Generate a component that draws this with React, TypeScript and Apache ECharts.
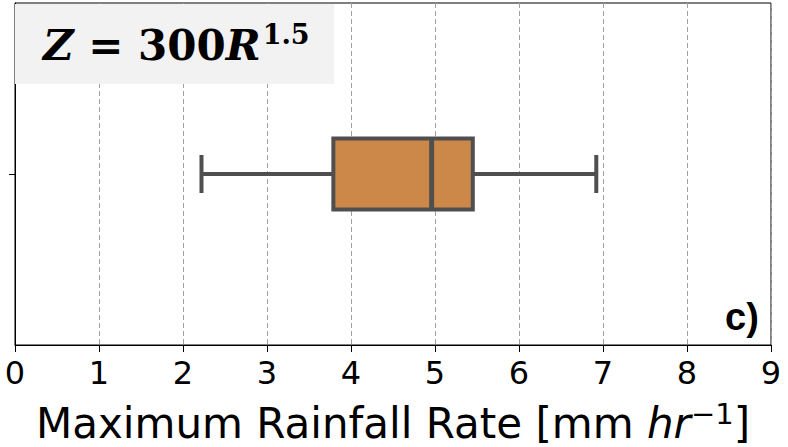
import React, { useEffect, useRef } from "react";
import * as echarts from "echarts";

const categories = [""];
const boxValues = [[2.22, 3.79, 4.96, 5.45, 6.92]]; // low, Q1, median, Q3, high
const xMin = 0;
const xMax = 9;
const xInterval = 1;

export default function App() {
  const ref = useRef<HTMLDivElement>(null);
  useEffect(() => {
    document.body.style.margin = "0";
    const chart = echarts.init(ref.current!, null, { renderer: "svg" });
    const stroke = "#4f4f4f";
    chart.setOption({
      animation: false,
      backgroundColor: "#ffffff",
      grid: {
        left: 15,
        right: 17,
        top: 3,
        bottom: 102,
        outerBoundsMode: "none",
        containLabel: false,
        show: true,
        borderColor: "#000",
        borderWidth: 1,
        backgroundColor: "transparent",
      },
      xAxis: {
        type: "value",
        min: xMin,
        max: xMax,
        interval: xInterval,
        axisLine: { show: true, lineStyle: { color: "#000", width: 1 } },
        axisTick: { show: true, length: 7, lineStyle: { color: "#000" } },
        axisLabel: {
          color: "#000",
          fontSize: 32,
          fontFamily: "DejaVu Sans",
          margin: 12,
        },
        splitLine: {
          show: true,
          lineStyle: { color: "#a0a0a0", type: [5, 3], width: 1 },
        },
        name: "{a|Maximum Rainfall Rate [mm }{i|hr}{s|−1}{a|]}",
        nameLocation: "middle",
        nameGap: 54,
        nameTextStyle: {
          rich: {
            a: { fontSize: 42, fontFamily: "DejaVu Sans", color: "#000" },
            i: {
              fontSize: 42,
              fontFamily: "DejaVu Sans",
              fontStyle: "italic",
              color: "#000",
            },
            s: {
              fontSize: 29,
              fontFamily: "DejaVu Sans",
              color: "#000",
              padding: [0, 0, 20, 0],
            },
          },
        },
      },
      yAxis: {
        type: "category",
        data: categories,
        axisLine: { show: true, lineStyle: { color: "#000", width: 1 } },
        axisTick: {
          show: true,
          alignWithLabel: true,
          length: 6,
          lineStyle: { color: "#000" },
        },
        axisLabel: { show: false },
        splitLine: { show: false },
      },
      series: [
        {
          type: "custom",
          data: boxValues.map((v, i) => [i, ...v]),
          encode: { x: [1, 2, 3, 4, 5], y: 0 },
          renderItem: (params: any, api: any) => {
            const idx = api.value(0);
            const low = api.coord([api.value(1), idx]);
            const q1 = api.coord([api.value(2), idx]);
            const med = api.coord([api.value(3), idx]);
            const q3 = api.coord([api.value(4), idx]);
            const high = api.coord([api.value(5), idx]);
            const band = api.size([0, 1])[1];
            const bh = band * 0.208;
            const ch = band * 0.111;
            const cy = low[1];
            const ls = { stroke, lineWidth: 4 };
            return {
              type: "group",
              children: [
                {
                  type: "line",
                  shape: { x1: low[0], y1: cy, x2: q1[0], y2: cy },
                  style: ls,
                },
                {
                  type: "line",
                  shape: { x1: q3[0], y1: cy, x2: high[0], y2: cy },
                  style: ls,
                },
                {
                  type: "line",
                  shape: { x1: low[0], y1: cy - ch / 2, x2: low[0], y2: cy + ch / 2 },
                  style: ls,
                },
                {
                  type: "line",
                  shape: { x1: high[0], y1: cy - ch / 2, x2: high[0], y2: cy + ch / 2 },
                  style: ls,
                },
                {
                  type: "rect",
                  shape: { x: q1[0], y: cy - bh / 2, width: q3[0] - q1[0], height: bh },
                  style: { fill: "#cc8849", stroke, lineWidth: 4 },
                },
                {
                  type: "line",
                  shape: { x1: med[0], y1: cy - bh / 2, x2: med[0], y2: cy + bh / 2 },
                  style: { stroke, lineWidth: 5 },
                },
              ],
            };
          },
        },
      ],
      graphic: [
        {
          type: "rect",
          left: 15,
          top: 4,
          shape: { width: 319, height: 80 },
          style: { fill: "#f2f2f2" },
          z: 10,
        },
        {
          type: "text",
          left: 43,
          top: 21,
          z: 11,
          style: {
            text: "{it|Z}{b| = 300}{it|R}{sup|1.5}",
            rich: {
              it: {
                fontFamily: "DejaVu Serif",
                fontWeight: "bold",
                fontStyle: "italic",
                fontSize: 42,
                fill: "#000",
              },
              b: {
                fontFamily: "DejaVu Serif",
                fontWeight: "bold",
                fontSize: 42,
                fill: "#000",
              },
              sup: {
                fontFamily: "DejaVu Serif",
                fontWeight: "bold",
                fontSize: 27,
                fill: "#000",
                padding: [0, 0, 22, 2],
              },
            },
          },
        },
        {
          type: "text",
          left: 725,
          top: 298,
          z: 11,
          style: {
            text: "c)",
            fontFamily: "Liberation Sans",
            fontWeight: "bold",
            fontSize: 38,
            fill: "#000",
          },
        },
      ],
    });
    return () => chart.dispose();
  }, []);
  return <div ref={ref} style={{ width: 788, height: 447 }} />;
}
